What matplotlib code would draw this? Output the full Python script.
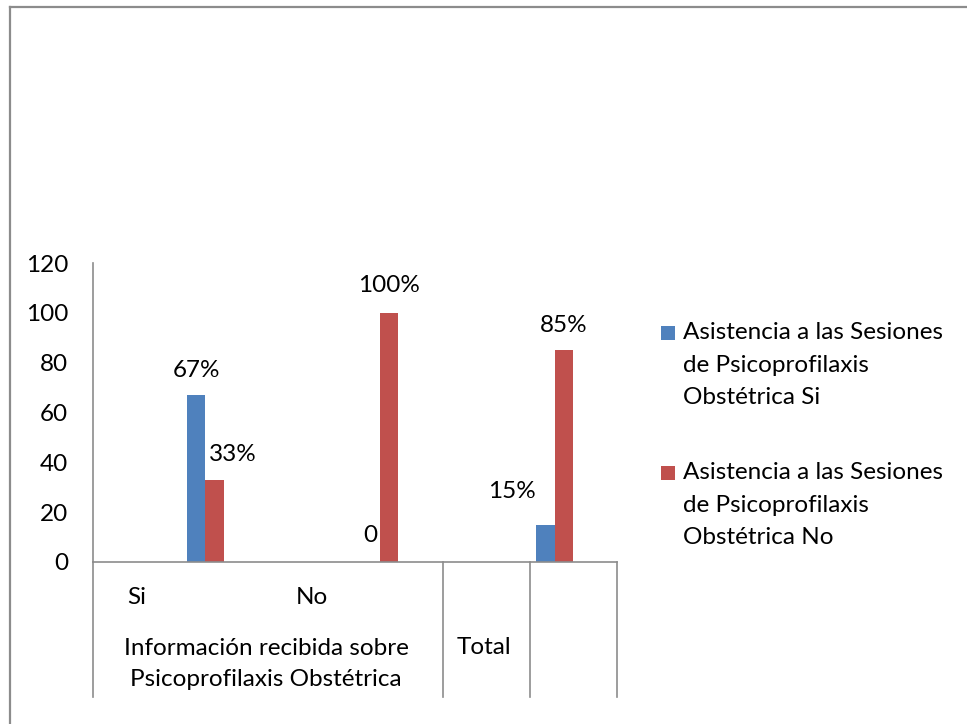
import matplotlib
matplotlib.use("Agg")
import matplotlib.pyplot as plt
import matplotlib.transforms as mtransforms
from matplotlib.lines import Line2D
from matplotlib.patches import Rectangle

plt.rcParams['font.family'] = ['Lato', 'DejaVu Sans']

# ---- data ----
categories = ["Si", "No", "Total"]
group_label = "Información recibida sobre\nPsicoprofilaxis Obstétrica"
series_names = ["Asistencia a las Sesiones\nde Psicoprofilaxis\nObstétrica Si",
                "Asistencia a las Sesiones\nde Psicoprofilaxis\nObstétrica No"]
si_values = [67, 0, 15]
no_values = [33, 100, 85]
si_labels = ["67%", "0", "15%"]
no_labels = ["33%", "100%", "85%"]
yticks = [0, 20, 40, 60, 80, 100, 120]

colors = ["#4F81BD", "#C0504D"]
FS = 17.5
GRAY = "#8c8c8c"

fig = plt.figure(figsize=(9.67, 7.24), dpi=100)
W, H = 967, 724
# outer border
fig.add_artist(Line2D([10 / W, 10 / W], [0, 1 - 7 / H], transform=fig.transFigure, color=GRAY, lw=1.6))
fig.add_artist(Line2D([10 / W, 1], [1 - 7 / H, 1 - 7 / H], transform=fig.transFigure, color=GRAY, lw=1.6))

ax = fig.add_axes([93 / W, 1 - 562 / H, (617 - 93) / W, (562 - 263) / H])
x = list(range(len(categories)))
offset = 0.143
bw = 0.106
b1 = ax.bar([xi + offset - bw / 2 for xi in x], si_values, bw, color=colors[0])
b2 = ax.bar([xi + offset + bw / 2 for xi in x], no_values, bw, color=colors[1])

ax.set_xlim(-0.5, 2.5)
ax.set_ylim(0, 120)
ax.set_yticks(yticks)
ax.set_yticklabels([str(v) for v in yticks], fontsize=FS)
ax.tick_params(axis='y', length=0, pad=18)
ax.set_xticks([])
for s in ["top", "right"]:
    ax.spines[s].set_visible(False)
for s in ["left", "bottom"]:
    ax.spines[s].set_color(GRAY)
    ax.spines[s].set_linewidth(1.2)

# data labels (offsets in pixels)
si_off = [(0, 25), (0, 27), (-33, 33)]
no_off = [(18, 25), (0, 27), (0, 25)]
for rect, lab, off in zip(b1, si_labels, si_off):
    ax.annotate(lab, (rect.get_x() + rect.get_width() / 2, rect.get_height()),
                xytext=off, textcoords="offset pixels", ha="center", va="center", fontsize=FS)
for rect, lab, off in zip(b2, no_labels, no_off):
    ax.annotate(lab, (rect.get_x() + rect.get_width() / 2, rect.get_height()),
                xytext=off, textcoords="offset pixels", ha="center", va="center", fontsize=FS)

# multi-level category axis
trans = mtransforms.blended_transform_factory(ax.transData, ax.transAxes)
sep_bottom = -(697 - 562) / (562 - 263)
def px2x(px):
    return (px - 93) / ((617 - 93) / 3) - 0.5
for px in [93, 443, 530, 617]:
    ax.add_artist(Line2D([px2x(px), px2x(px)], [0, sep_bottom], transform=trans,
                         color=GRAY, lw=1.2, clip_on=False))
row1_y = -(598 - 562) / (562 - 263)
ax.text(px2x(137), row1_y, categories[0], transform=trans, ha="center", va="center", fontsize=FS)
ax.text(px2x(312), row1_y, categories[1], transform=trans, ha="center", va="center", fontsize=FS)
ax.text(px2x(266), -(664 - 562) / (562 - 263), group_label, transform=trans, ha="center",
        va="center", fontsize=FS, linespacing=1.62)
ax.text(px2x(484), -(647 - 562) / (562 - 263), categories[2], transform=trans, ha="center",
        va="center", fontsize=FS)

# legend (drawn manually so the swatch sits on the first text line)
legend_tops = [333, 473]
for name, col, ytop in zip(series_names, colors, legend_tops):
    fig.add_artist(Rectangle((661 / W, 1 - (ytop + 7) / H), 14 / W, 14 / H,
                             transform=fig.transFigure, facecolor=col, edgecolor="none"))
    fig.text(683 / W, 1 - (ytop - 11) / H, name, ha="left", va="top", fontsize=FS,
             linespacing=1.68)

fig.savefig("out.png", dpi=100)
